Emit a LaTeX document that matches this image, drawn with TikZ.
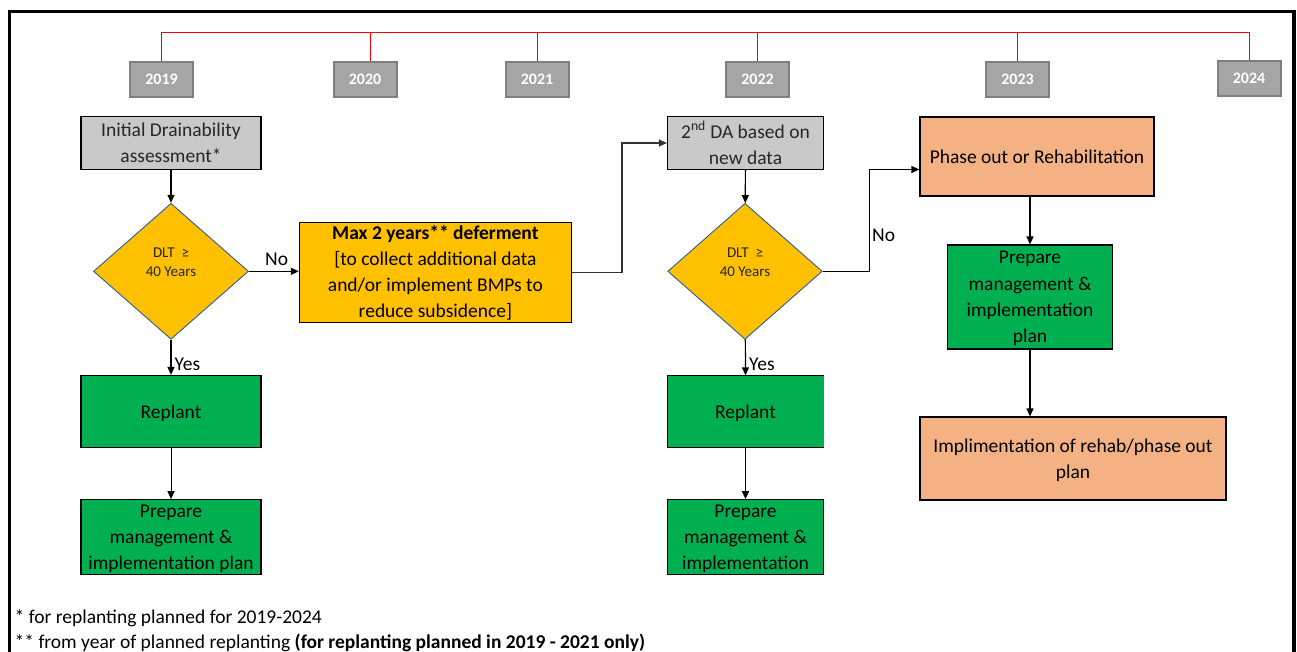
\documentclass[tikz,border=0pt]{standalone}
\usepackage{fontspec}
\setmainfont{Carlito}
\usetikzlibrary{arrows.meta,shapes.geometric}
\definecolor{yearfill}{HTML}{A5A5A5}
\definecolor{yearedge}{HTML}{7F7F7F}
\definecolor{greybox}{HTML}{C9C9C9}
\definecolor{amber}{HTML}{FFC000}
\definecolor{leaf}{HTML}{00B050}
\definecolor{salmon}{HTML}{F4B183}
\definecolor{diaedge}{HTML}{2F5C95}
\definecolor{inkgrey}{HTML}{262626}
\newcommand\mainsz{\fontsize{19.5}{26.2}\selectfont}
\begin{document}
\begin{tikzpicture}[x=1pt,y=-1pt,
  yearbox/.style={draw=yearedge, fill=yearfill, line width=2pt, minimum width=63pt,
    minimum height=35pt, inner sep=0pt, text=white, font=\bfseries\fontsize{16}{18}\selectfont},
  tline/.style={draw=red, line width=1pt},
  boxtext/.style={inner sep=0pt, align=center, font=\mainsz},
  flowbox/.style={boxtext, draw=black, line width=1.2pt},
  tdepth/.style={text depth=#1},
  decision/.style={diamond, draw=diaedge, line width=0.9pt, fill=amber, inner sep=0pt,
    align=center, font=\fontsize{15}{19.5}\selectfont, text=black!85, text depth=18pt},
  arr/.style={draw=black, line width=1.2pt, -{Triangle[length=8pt,width=7pt]}},
  lbl/.style={inner sep=0pt, font=\mainsz},
  note/.style={inner sep=0pt, anchor=base west, font=\mainsz}]
\useasboundingbox (0,0) rectangle (1297,652);

% outer frame (open at the bottom)
\draw[line width=3.2pt] (9.5,652) -- (9.5,11.5) -- (1294,11.5) -- (1294,652);

% timeline
\node[yearbox] (y2019) at (161.5,79.5) {2019};
\node[yearbox] (y2020) at (365,79.5) {2020};
\node[yearbox] (y2021) at (537,79.5) {2021};
\node[yearbox] (y2022) at (757.5,79.5) {2022};
\node[yearbox] (y2023) at (1017.5,79.5) {2023};
\node[yearbox] (y2024) at (1249,78.5) {2024};
\coordinate (tl) at (0,33);
\draw[tline] (y2019.north) -- (y2019.north |- tl) -- (y2024.north |- tl) -- (y2024.north);
\draw[tline] ([xshift=5pt]y2020.north) -- ([xshift=5pt]y2020.north |- tl);
\foreach \yr in {y2021,y2022,y2023}
  \draw[tline] (\yr.north) -- (\yr.north |- tl);

% first assessment branch
\node[flowbox, fill=greybox, text=inkgrey, minimum width=180pt, minimum height=53pt, tdepth=-8pt]
  (da1) at (171,143) {Initial Drainability\\assessment*};
\node[decision, minimum width=155pt, minimum height=136pt] (dlt1) at (171,271.3)
  {DLT\ \ ≥\\40 Years};
\node[flowbox, fill=amber, minimum width=272pt, minimum height=100pt, tdepth=2pt] (defer) at (435.4,272.5)
  {\textbf{Max 2 years** deferment}\\{[}to collect additional data\\and/or implement BMPs to\\reduce subsidence{]}};
\node[flowbox, fill=leaf, minimum width=180pt, minimum height=72pt, tdepth=-1.4pt] (rp1) at (171,411.5) {Replant};
\node[flowbox, fill=leaf, minimum width=180pt, minimum height=74.5pt, tdepth=-4.4pt] (pm1) at (171,537)
  {Prepare\\management \&\\implementation plan};

% second assessment branch
\node[flowbox, fill=greybox, text=inkgrey, minimum width=156pt, minimum height=53pt, tdepth=-3pt]
  (da2) at (745.5,143) {2\textsuperscript{nd} DA based on\\new data};
\node[decision, minimum width=154.5pt, minimum height=136pt] (dlt2) at (745,271.3)
  {DLT\ \ ≥\\40 Years};
\node[boxtext, fill=leaf, minimum width=156pt, minimum height=72pt, tdepth=-1.4pt]
  (rp2) at (745.5,411.5) {Replant};
\draw[line width=1.2pt] (rp2.north east) -- (rp2.north west) -- (rp2.south west) -- (rp2.south east);
\node[flowbox, fill=leaf, minimum width=156pt, minimum height=74.5pt, tdepth=-4.4pt] (pm2) at (745.5,537)
  {Prepare\\management \&\\implementation};

% phase-out branch
\node[flowbox, fill=salmon, minimum width=234pt, minimum height=79pt, tdepth=-1pt] (phase) at (1037,156.5)
  {Phase out or Rehabilitation};
\node[flowbox, fill=leaf, minimum width=165pt, minimum height=104pt, tdepth=-2.4pt] (pm3) at (1030,297)
  {Prepare\\management \&\\implementation\\plan};
\node[flowbox, fill=salmon, minimum width=306pt, minimum height=83pt, tdepth=-3pt] (impl) at (1073,458.5)
  {Implimentation of rehab/phase out\\plan};

% connectors
\draw[arr] (da1) -- (dlt1);
\draw[arr] (dlt1.east) -- (dlt1.east -| defer.west);
\draw[arr] (dlt1) -- (rp1);
\draw[arr, line width=1pt] (rp1) -- (pm1);
\draw[arr, draw=black!80] (defer.east) -- ++(50,0) |- (da2.west);
\draw[arr] (da2) -- (dlt2);
\draw[arr] (dlt2) -- (rp2.north);
\draw[arr, line width=1.5pt] (rp2.south) -- (pm2);
\draw[arr] (dlt2.east) -- ++(46.5,0) |- ([yshift=-13pt]phase.west);
\draw[arr, line width=1.5pt] (phase.south -| pm3.north) -- (pm3);
\draw[arr] (pm3.south) -- (pm3.south |- impl.north);

% branch labels
\node[lbl, anchor=west] (no1) at (265,259) {No};
\node[lbl, anchor=west] (yes1) at (174.5,364) {Yes};
\node[lbl, anchor=west] (no2) at (872,235) {No};
\node[lbl, anchor=west] (yes2) at (749,364) {Yes};

% footnotes
\node[note] (fn1) at (14.5,623) {* for replanting planned for 2019-2024};
\node[note] (fn2) at (14.5,648.5) {** from year of planned replanting \textbf{(for replanting planned in 2019 - 2021 only)}};
\end{tikzpicture}
\end{document}
